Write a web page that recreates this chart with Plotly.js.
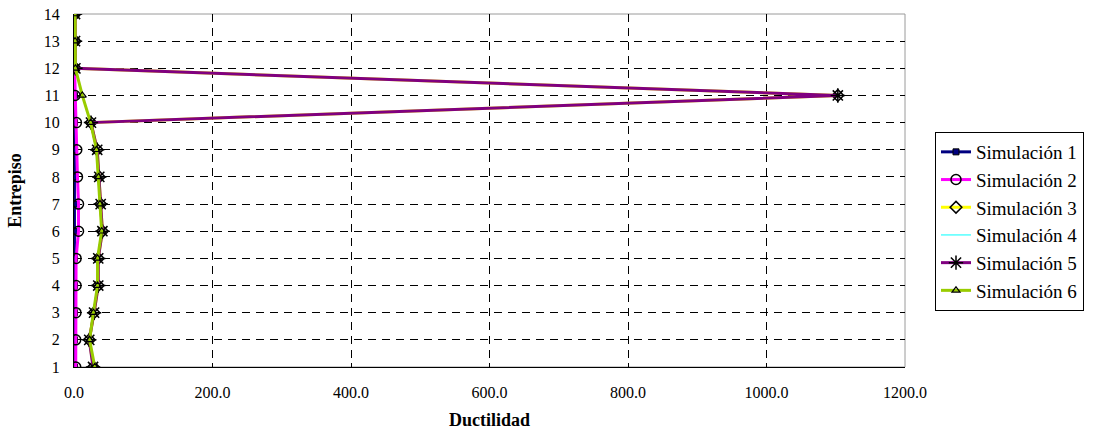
<!DOCTYPE html>
<html>
<head>
<meta charset="utf-8">
<script src="https://cdn.plot.ly/plotly-3.0.1.min.js"></script>
<style>html,body{margin:0;padding:0;background:#fff;}#chart{width:1114px;height:434px;}</style>
</head>
<body>
<div id="chart"></div>
<script>
var pisos = [1, 2, 3, 4, 5, 6, 7, 8, 9, 10, 11, 12, 13, 14];
var sim1 = [0.8, 0.8, 0.8, 0.8, 0.8, 0.8, 0.8, 0.8, 0.8, 0.8, 0.6, 0.5, 0.5, 0.5];
var sim2 = [2.5, 2.5, 2.8, 3.0, 3.0, 6.5, 6.5, 5.0, 4.0, 3.5, 1.5, 0.8, 0.6, 0.5];
var sim3 = [28.0, 22.0, 29.0, 35.0, 35.0, 41.0, 38.5, 36.5, 33.5, 24.5, 1103.0, 2.0, 1.5, 1.5];
var sim4 = [2.4, 2.4, 2.7, 2.9, 2.9, 6.3, 6.3, 4.8, 3.9, 3.4, 1.4, 0.7, 0.6, 0.5];
var sim5 = [27.5, 22.0, 29.0, 35.0, 35.0, 41.0, 38.5, 36.5, 33.5, 24.5, 1103.0, 2.0, 1.5, 1.5];
var sim6 = [30.0, 22.5, 28.0, 34.0, 34.0, 40.0, 37.5, 35.5, 32.5, 24.0, 12.0, 2.0, 1.5, 1.5];
var nombres = ["Simulación 1", "Simulación 2", "Simulación 3", "Simulación 4", "Simulación 5", "Simulación 6"];
var xticks = [0, 200, 400, 600, 800, 1000, 1200];

var L = 74, R = 905, T = 14, B = 367;
var W = 1114, H = 434;

function tr(x, name, color, width, sym, msize, mfill, mlw) {
  var t = {
    x: x, y: pisos, name: name, type: 'scatter', mode: sym ? 'lines+markers' : 'lines',
    line: {color: color, width: width}
  };
  if (sym) {
    t.marker = {symbol: sym, size: msize, color: mfill || '#000', line: {color: '#000', width: mlw}};
  }
  return t;
}

// draw order: cyan under magenta so it stays hidden as in the reference
var t1 = tr(sim1, nombres[0], '#000080', 3, 'square', 6, '#000080', 1);
var t2 = tr(sim2, nombres[1], '#FF00FF', 3, 'circle-open', 10, '#000', 1.5);
var t3 = tr(sim3, nombres[2], '#FFFF00', 3, 'diamond-open', 9, '#000', 1.5);
var t4 = tr(sim4, nombres[3], '#00FFFF', 1, null, 0, null, 0);
var t5 = tr(sim5, nombres[4], '#800080', 3, 'asterisk-open', 12, '#000', 1.5);
var t6 = tr(sim6, nombres[5], '#99CC00', 3, 'triangle-up-open', 7, '#000', 1.2);
t1.legendrank = 1; t2.legendrank = 2; t3.legendrank = 3; t4.legendrank = 4; t5.legendrank = 5; t6.legendrank = 6;
var data = [t1, t4, t2, t3, t5, t6];

var serif = 'Liberation Serif, Times New Roman, serif';

var layout = {
  width: W, height: H,
  margin: {l: L, r: W - R, t: T, b: H - B, pad: 0},
  paper_bgcolor: '#fff', plot_bgcolor: '#fff',
  font: {family: serif, color: '#000', size: 16},
  showlegend: true,
  legend: {
    x: (935 - L) / (R - L), xanchor: 'left',
    y: (B - 132) / (B - T), yanchor: 'top',
    bgcolor: '#fff', bordercolor: '#000', borderwidth: 1,
    font: {family: serif, size: 19, color: '#000'},
    itemwidth: 30, traceorder: 'normal'
  },
  xaxis: {
    range: [0, 1200], tickvals: xticks, ticktext: xticks.map(function(v){return v.toFixed(1);}),
    showgrid: true, gridcolor: '#000', gridwidth: 1, griddash: '8px,6px',
    zeroline: false, showline: true, linecolor: '#000', linewidth: 1,
    ticks: 'inside', ticklen: 4, tickcolor: '#000',
    tickfont: {family: serif, size: 16, color: '#000'},
    ticklabelstandoff: 11,
    title: {text: '<b>Ductilidad</b>', font: {family: serif, size: 18, color: '#000'}, standoff: 13},
    automargin: false, fixedrange: true
  },
  yaxis: {
    range: [1, 14], tickvals: pisos, ticktext: pisos.map(String),
    showgrid: true, gridcolor: '#000', gridwidth: 1, griddash: '8px,6px',
    zeroline: false, showline: true, linecolor: '#000', linewidth: 1,
    ticks: '', tickfont: {family: serif, size: 16, color: '#000'},
    ticklabelstandoff: 10,
    title: {text: '<b>Entrepiso</b>', font: {family: serif, size: 18, color: '#000'}, standoff: 17},
    automargin: false, fixedrange: true
  },
  shapes: [
    {type: 'rect', xref: 'paper', yref: 'paper', x0: 0, x1: 1, y0: 0, y1: 1,
     line: {color: '#9a9a9a', width: 1}, fillcolor: 'rgba(0,0,0,0)', layer: 'below'}
  ]
};

Plotly.newPlot('chart', data, layout, {displayModeBar: false, staticPlot: true});
</script>
</body>
</html>
